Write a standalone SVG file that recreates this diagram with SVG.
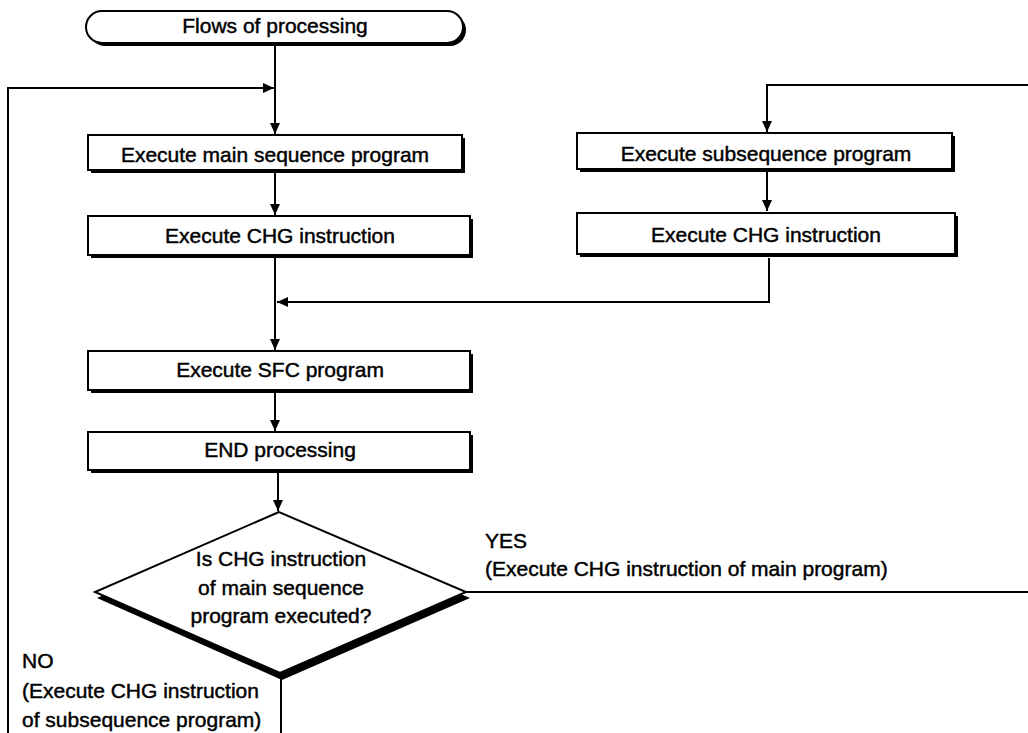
<svg xmlns="http://www.w3.org/2000/svg" width="1028" height="733" viewBox="0 0 1028 733">
<style>
.t{font-family:"Liberation Sans",Arial,sans-serif;font-size:21px;fill:#000;stroke:#000;stroke-width:0.45px}
.c{text-anchor:middle}
.box{fill:#fff;stroke:#000;stroke-width:2}
.sh{fill:#000}
.ln{fill:none;stroke:#000;stroke-width:2}
</style>
<defs>
<marker id="ah" markerUnits="userSpaceOnUse" markerWidth="12" markerHeight="10" refX="11" refY="5" orient="auto">
<path d="M0,0 L11,5 L0,10 Z" fill="#000"/>
</marker>
</defs>
<rect width="1028" height="733" fill="#fff"/>
<g id="connectors">
<line class="ln" x1="275" y1="45" x2="275" y2="134" marker-end="url(#ah)"/>
<polyline class="ln" points="8,733 8,88 274,88" marker-end="url(#ah)"/>
<line class="ln" x1="275" y1="173" x2="275" y2="215" marker-end="url(#ah)"/>
<line class="ln" x1="275" y1="258" x2="275" y2="350" marker-end="url(#ah)"/>
<polyline class="ln" points="769,258 769,302 277,302" marker-end="url(#ah)"/>
<line class="ln" x1="275" y1="393" x2="275" y2="431" marker-end="url(#ah)"/>
<line class="ln" x1="278" y1="473" x2="278" y2="511" marker-end="url(#ah)"/>
<polyline class="ln" points="1028,85 767,85 767,132" marker-end="url(#ah)"/>
<line class="ln" x1="767" y1="172" x2="767" y2="211" marker-end="url(#ah)"/>
<line class="ln" x1="466" y1="592" x2="1028" y2="592"/>
<line class="ln" x1="281" y1="675" x2="281" y2="733"/>
</g>
<g id="start">
<rect class="sh" x="89" y="14" width="377" height="32" rx="16"/>
<rect class="box" x="86" y="11" width="377" height="32" rx="16"/>
<text class="t c" x="275" y="33">Flows of processing</text>
</g>
<g id="main-seq">
<rect class="sh" x="91" y="138" width="374" height="35"/>
<rect class="box" x="88" y="135" width="374" height="35"/>
<text class="t c" x="275" y="162">Execute main sequence program</text>
</g>
<g id="main-chg">
<rect class="sh" x="91" y="219" width="382" height="39"/>
<rect class="box" x="88" y="216" width="382" height="39"/>
<text class="t c" x="280" y="243">Execute CHG instruction</text>
</g>
<g id="sfc">
<rect class="sh" x="91" y="354" width="382" height="39"/>
<rect class="box" x="88" y="351" width="382" height="39"/>
<text class="t c" x="280" y="377">Execute SFC program</text>
</g>
<g id="end">
<rect class="sh" x="91" y="435" width="382" height="38"/>
<rect class="box" x="88" y="432" width="382" height="38"/>
<text class="t c" x="280" y="457">END processing</text>
</g>
<g id="sub-seq">
<rect class="sh" x="580" y="136" width="375" height="36"/>
<rect class="box" x="577" y="133" width="375" height="36"/>
<text class="t c" x="766" y="161">Execute subsequence program</text>
</g>
<g id="sub-chg">
<rect class="sh" x="580" y="216" width="378" height="41"/>
<rect class="box" x="577" y="213" width="378" height="41"/>
<text class="t c" x="766" y="242">Execute CHG instruction</text>
</g>
<g id="decision">
<polygon class="sh" points="281,518 97,598 282,680 470,598"/>
<polygon class="box" points="279,512 95,592 280,673 466,592"/>
<text class="t c" x="281" y="566">Is CHG instruction</text>
<text class="t c" x="281" y="595">of main sequence</text>
<text class="t c" x="281" y="623">program executed?</text>
</g>
<g id="labels">
<text class="t" x="485" y="548">YES</text>
<text class="t" x="485" y="576">(Execute CHG instruction of main program)</text>
<text class="t" x="22" y="668">NO</text>
<text class="t" x="22" y="698">(Execute CHG instruction</text>
<text class="t" x="22" y="727">of subsequence program)</text>
</g>
</svg>
